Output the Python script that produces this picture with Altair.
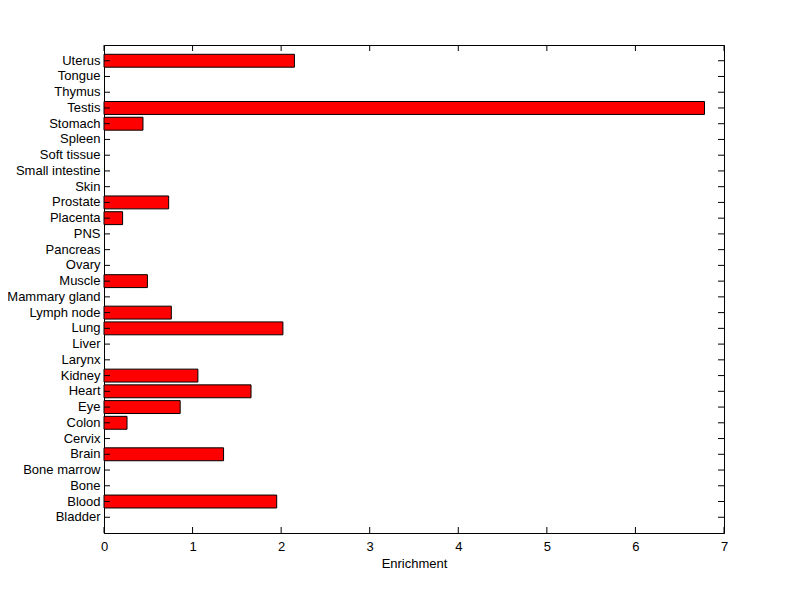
import altair as alt
import pandas as pd

categories = ["Bladder", "Blood", "Bone", "Bone marrow", "Brain", "Cervix", "Colon", "Eye",
              "Heart", "Kidney", "Larynx", "Liver", "Lung", "Lymph node", "Mammary gland",
              "Muscle", "Ovary", "Pancreas", "PNS", "Placenta", "Prostate", "Skin",
              "Small intestine", "Soft tissue", "Spleen", "Stomach", "Testis", "Thymus",
              "Tongue", "Uterus"]
enrichment = [0, 1.95, 0, 0, 1.35, 0, 0.26, 0.86,
              1.66, 1.06, 0, 0, 2.02, 0.76, 0,
              0.49, 0, 0, 0, 0.21, 0.73, 0,
              0, 0, 0, 0.44, 6.78, 0,
              0, 2.15]
x_ticks = [0, 1, 2, 3, 4, 5, 6, 7]

W, H = 620, 488
FONT = "Liberation Sans"
order = list(reversed(categories))

df = pd.DataFrame({"tissue": categories, "value": enrichment})
tick_df = pd.DataFrame({"t": x_ticks})

xscale = alt.Scale(domain=[0, 7], nice=False, zero=True)
yscale = alt.Scale(domain=order, paddingInner=0.18, paddingOuter=0.59)

bars = alt.Chart(df).transform_filter("datum.value > 0").mark_bar(
    color="#ff0000", stroke="black", strokeWidth=1).encode(
    x=alt.X("value:Q", scale=xscale,
            axis=alt.Axis(title="Enrichment", values=x_ticks, format="d", tickSize=0,
                          grid=False, labelFlush=False, labelPadding=7, titlePadding=4,
                          domainColor="black", labelColor="black", titleColor="black",
                          labelFont=FONT, titleFont=FONT, labelFontSize=13,
                          titleFontSize=13, titleFontWeight="normal")),
    y=alt.Y("tissue:N", scale=yscale, sort=order,
            axis=alt.Axis(title=None, tickSize=0, grid=False, labelPadding=4,
                          domainColor="black", labelColor="black", labelFont=FONT,
                          labelFontSize=13)),
)

ytick_left = alt.Chart(df).mark_rule(color="black", strokeWidth=1).encode(
    y=alt.Y("tissue:N", scale=yscale, sort=order), x=alt.value(0), x2=alt.value(6))
ytick_right = alt.Chart(df).mark_rule(color="black", strokeWidth=1).encode(
    y=alt.Y("tissue:N", scale=yscale, sort=order), x=alt.value(W - 6), x2=alt.value(W))
xtick_bottom = alt.Chart(tick_df).mark_rule(color="black", strokeWidth=1).encode(
    x=alt.X("t:Q", scale=xscale), y=alt.value(H - 6), y2=alt.value(H))
xtick_top = alt.Chart(tick_df).mark_rule(color="black", strokeWidth=1).encode(
    x=alt.X("t:Q", scale=xscale), y=alt.value(0), y2=alt.value(6))

chart = alt.layer(bars, ytick_left, ytick_right, xtick_bottom, xtick_top).properties(
    width=W, height=H,
    autosize=alt.AutoSizeParams(type="none"),
    padding={"left": 96, "top": 37, "right": 68, "bottom": 58},
    background="white",
).configure_view(stroke="black", strokeWidth=1)

chart.save("out.html", embed_options={"renderer": "svg", "actions": False})
